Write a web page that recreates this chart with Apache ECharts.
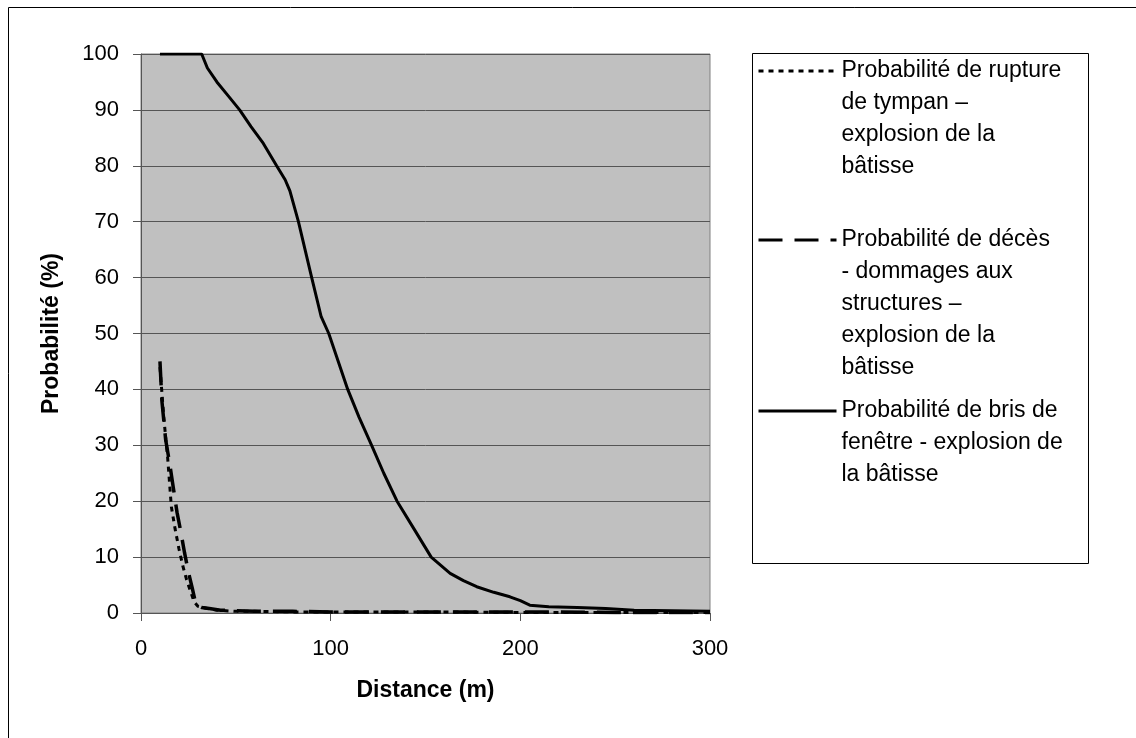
<!DOCTYPE html>
<html>
<head>
<meta charset="utf-8">
<script src="https://cdn.jsdelivr.net/npm/echarts@6/dist/echarts.min.js"></script>
<style>
  html, body { margin: 0; padding: 0; background: #fff; }
  #chart { width: 1136px; height: 738px; }
</style>
</head>
<body>
<div id="chart"></div>
<script>
'use strict';
// Probabilité de rupture de tympan
const distTympan = [10, 12, 14, 16, 18, 20, 22, 24, 26, 28, 30, 35, 40, 50, 60, 80, 100, 150, 200, 250, 300];
const probTympan = [44, 35, 28, 19, 15, 11.5, 8.5, 6, 4, 2, 1.2, 0.8, 0.5, 0.3, 0.3, 0.2, 0.2, 0.2, 0.1, 0.1, 0.1];
// Probabilité de décès - dommages aux structures
const distDeces = [10, 11, 13, 15, 17, 19, 21, 23, 25, 27, 29, 32, 36, 42, 50, 60, 80, 100, 150, 200, 250, 300];
const probDeces = [45, 38, 31, 27, 22.5, 18, 14.5, 10.7, 7.3, 4.5, 1.5, 1.0, 0.8, 0.5, 0.4, 0.3, 0.3, 0.2, 0.2, 0.2, 0.1, 0.1];
// Probabilité de bris de fenêtre
const distBris = [10, 32, 35, 40, 46, 52, 58, 64.5, 71.5, 76, 78.5, 83, 90, 95, 99, 104, 109, 115, 121.6, 128, 135, 144, 153, 163, 170, 177, 186, 194.5, 200, 205, 215, 230, 245, 260, 280, 300];
const probBris = [100, 100, 97.5, 95, 92.5, 90, 87, 84, 80, 77.5, 75.5, 70, 60, 53, 50, 45, 40, 35, 30, 25, 20, 15, 10, 7.1, 5.8, 4.7, 3.7, 2.9, 2.2, 1.4, 1.1, 1.0, 0.8, 0.5, 0.4, 0.3];

const seriesNames = [
    'Probabilité de rupture de tympan – explosion de la bâtisse',
    'Probabilité de décès - dommages aux structures – explosion de la bâtisse',
    'Probabilité de bris de fenêtre - explosion de la bâtisse',
];
const legendLines = [
    ['Probabilité de rupture', 'de tympan –', 'explosion de la', 'bâtisse'],
    ['Probabilité de décès', '- dommages aux', 'structures –', 'explosion de la', 'bâtisse'],
    ['Probabilité de bris de', 'fenêtre - explosion de', 'la bâtisse'],
];
const yTicks = { min: 0, max: 100, interval: 10 };
const xTicks = { min: 0, max: 300, interval: 100 };

const FONT = '"Liberation Sans", Arial, sans-serif';
const LH = 32;

function pairs(xs, ys) {
    return xs.map((x, i) => [x, ys[i]]);
}

// first text line of each legend entry, level with its line sample
const legendFirstLineY = [71, 240, 411];

function makeLegend(idx) {
    const n = legendLines[idx].length;
    return {
        data: [seriesNames[idx]],
        orient: 'vertical',
        left: 757,
        top: legendFirstLineY[idx] - (n - 1) * LH - LH / 2,
        padding: 0,
        itemWidth: 78,
        itemHeight: 14,
        itemGap: 0,
        selectedMode: false,
        itemStyle: { color: 'transparent', borderWidth: 0, opacity: 0 },
        lineStyle: { width: 3 },
        textStyle: { fontFamily: FONT, fontSize: 23, color: '#000', lineHeight: LH },
        // blank lines before the text keep the sample line on the first text line
        formatter: () => '\n'.repeat(n - 1) + legendLines[idx].join('\n'),
    };
}

function init() {
    const chart = echarts.init(document.getElementById('chart'));
    const option = {
        animation: false,
        backgroundColor: '#fff',
        graphic: [
            { type: 'rect', shape: { x: 8.5, y: 7.5, width: 1200, height: 800 },
              style: { fill: 'none', stroke: '#000', lineWidth: 1 }, silent: true },
            { type: 'rect', shape: { x: 752.5, y: 53.5, width: 336, height: 510 },
              style: { fill: '#fff', stroke: '#000', lineWidth: 1 }, silent: true, z: -1 },
        ],
        legend: [makeLegend(0), makeLegend(1), makeLegend(2)],
        grid: {
            left: 141,
            right: 426,
            top: 54,
            bottom: 125,
            show: true,
            backgroundColor: '#c0c0c0',
            borderColor: '#808080',
            borderWidth: 1,
        },
        xAxis: {
            type: 'value',
            min: xTicks.min,
            max: xTicks.max,
            interval: xTicks.interval,
            name: 'Distance (m)',
            nameLocation: 'middle',
            nameGap: 66,
            nameTextStyle: { fontFamily: FONT, fontSize: 23, fontWeight: 'bold', color: '#000' },
            axisLine: { show: true, lineStyle: { color: '#555', width: 1 } },
            axisTick: { show: true, length: 8, lineStyle: { color: '#555' } },
            axisLabel: { margin: 25, fontFamily: FONT, fontSize: 22, color: '#000' },
            splitLine: { show: false },
        },
        yAxis: {
            type: 'value',
            min: yTicks.min,
            max: yTicks.max,
            interval: yTicks.interval,
            name: 'Probabilité (%)',
            nameLocation: 'middle',
            nameGap: 78,
            nameTextStyle: { fontFamily: FONT, fontSize: 23, fontWeight: 'bold', color: '#000' },
            axisLine: { show: true, lineStyle: { color: '#555', width: 1 } },
            axisTick: { show: true, length: 8, lineStyle: { color: '#555' } },
            axisLabel: { margin: 22, fontFamily: FONT, fontSize: 22, color: '#000' },
            splitLine: { show: true, lineStyle: { color: '#555', width: 1 } },
        },
        series: [
            {
                name: seriesNames[0],
                type: 'line',
                symbol: 'none',
                data: pairs(distTympan, probTympan),
                lineStyle: { color: '#000', width: 3, type: [5, 5] },
                itemStyle: { color: '#000' },
                z: 3,
            },
            {
                name: seriesNames[1],
                type: 'line',
                symbol: 'none',
                data: pairs(distDeces, probDeces),
                lineStyle: { color: '#000', width: 3.5, type: [24, 12] },
                itemStyle: { color: '#000' },
                z: 2,
            },
            {
                name: seriesNames[2],
                type: 'line',
                symbol: 'none',
                data: pairs(distBris, probBris),
                lineStyle: { color: '#000', width: 3 },
                itemStyle: { color: '#000' },
                z: 4,
            },
        ],
    };
    chart.setOption(option);
    window.addEventListener('resize', () => chart.resize());
}

init();
</script>
</body>
</html>
